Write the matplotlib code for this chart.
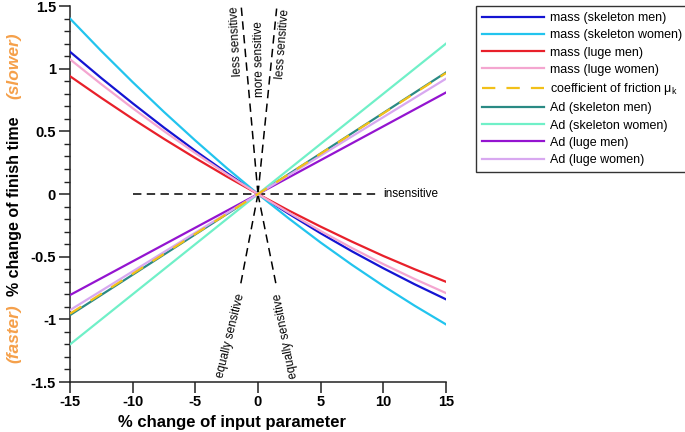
import matplotlib
matplotlib.use("Agg")
import matplotlib.pyplot as plt
from matplotlib.ticker import MultipleLocator

plt.rcParams['font.family'] = ['Liberation Sans', 'DejaVu Sans']
plt.rcParams['mathtext.fontset'] = 'custom'
plt.rcParams['mathtext.rm'] = 'Liberation Sans'
plt.rcParams['mathtext.it'] = 'Liberation Sans:italic'

# ---- data ----
x_mass = [-15, -12.5, -10, -7.5, -5, -2.5, 0, 2.5, 5, 7.5, 10, 12.5, 15]
mass_skeleton_men = [1.135, 0.925, 0.724, 0.53, 0.345, 0.169, 0,
                     -0.16, -0.313, -0.457, -0.592, -0.72, -0.84]
mass_skeleton_women = [1.40, 1.141, 0.893, 0.655, 0.427, 0.208, 0,
                       -0.198, -0.387, -0.565, -0.733, -0.891, -1.04]
mass_luge_men = [0.94, 0.767, 0.60, 0.44, 0.287, 0.14, 0,
                 -0.134, -0.26, -0.38, -0.494, -0.60, -0.70]
mass_luge_women = [1.075, 0.876, 0.685, 0.502, 0.327, 0.159, 0,
                   -0.151, -0.295, -0.431, -0.559, -0.678, -0.79]

x_lin = [-15, 0, 15]
friction = [-0.955, 0, 0.965]
ad_skeleton_men = [-0.966, 0, 0.97]
ad_skeleton_women = [-1.20, 0, 1.20]
ad_luge_men = [-0.806, 0, 0.81]
ad_luge_women = [-0.926, 0, 0.92]

labels = ['mass (skeleton men)', 'mass (skeleton women)', 'mass (luge men)',
          'mass (luge women)', 'coefficient of friction μ$_\\mathrm{k}$',
          'Ad (skeleton men)', 'Ad (skeleton women)', 'Ad (luge men)',
          'Ad (luge women)']
colors = ['#1414D2', '#22C4EE', '#E8202A', '#F4A6D0', '#F2C019',
          '#2A8A84', '#70F0C8', '#9414D0', '#D8A8F0']

# reference guide lines (endpoints in data units)
guide_h = ([-10, 9.5], [0, 0])
guide_lines = [([0, -1.33], [0, 1.49]), ([0, 1.49], [0, 1.48]),
               ([0, -1.44], [0, -0.75]), ([0, 1.50], [0, -0.75])]

fig = plt.figure(figsize=(6.85, 4.32), dpi=100)
ax = fig.add_axes([0.1022, 0.1157, 0.651 - 0.1022, 0.986 - 0.1157])

series = [(x_mass, mass_skeleton_men), (x_mass, mass_skeleton_women),
          (x_mass, mass_luge_men), (x_mass, mass_luge_women),
          (x_lin, friction), (x_lin, ad_skeleton_men),
          (x_lin, ad_skeleton_women), (x_lin, ad_luge_men),
          (x_lin, ad_luge_women)]

dash_kw = dict(color='black', lw=1.1, dashes=(5.5, 3.5), zorder=1)
ax.plot(*guide_h, **dash_kw)
for gx, gy in guide_lines:
    ax.plot(gx, gy, **dash_kw)

handles = []
for i, ((xs, ys), lab, c) in enumerate(zip(series, labels, colors)):
    if i == 4:
        h, = ax.plot(xs, ys, color=c, lw=1.6, dashes=(6, 5), label=lab, zorder=4)
    else:
        h, = ax.plot(xs, ys, color=c, lw=1.6, label=lab, zorder=3)
    handles.append(h)

ax.set_xlim(-15, 15)
ax.set_ylim(-1.5, 1.5)
ax.set_xticks([-15, -10, -5, 0, 5, 10, 15])
ax.set_xticklabels(['-15', '-10', '-5', '0', '5', '10', '15'])
ax.set_yticks([-1.5, -1, -0.5, 0, 0.5, 1, 1.5])
ax.set_yticklabels(['-1.5', '-1', '-0.5', '0', '0.5', '1', '1.5'])
ax.yaxis.set_minor_locator(MultipleLocator(0.1))
ax.spines['top'].set_visible(False)
ax.spines['right'].set_visible(False)
for s in ('left', 'bottom'):
    ax.spines[s].set_linewidth(1.1)
    ax.spines[s].set_color('#222222')
ax.tick_params(axis='both', which='major', direction='out', length=8,
               width=1.1, color='#222222', labelsize=10.5)
ax.tick_params(axis='x', which='major', pad=1.5)
ax.tick_params(axis='y', which='major', pad=2)
ax.tick_params(axis='y', which='minor', direction='out', length=4.5,
               width=1.0, color='#222222')
for t in ax.get_xticklabels() + ax.get_yticklabels():
    t.set_fontweight('bold')

fig.text(232 / 685, 1 - 423 / 432, '% change of input parameter',
         fontsize=12, fontweight='bold', ha='center', va='center')

# y label and side hints
fig.text(0.0205, 1 - 206 / 432, '% change of finish time', rotation=90,
         fontsize=11.5, fontweight='bold', ha='center', va='center')
fig.text(0.0205, 1 - 66 / 432, '(slower)', rotation=90, fontsize=12.5,
         fontweight='bold', style='italic', color='#F5A04A',
         ha='center', va='center')
fig.text(0.0205, 1 - 334 / 432, '(faster)', rotation=90, fontsize=12.5,
         fontweight='bold', style='italic', color='#F5A04A',
         ha='center', va='center')

# guide annotations
tkw = dict(fontsize=8.5, ha='center', va='center', rotation_mode='anchor')
ax.text(10.0, 0, 'insensitive', fontsize=8.5, ha='left', va='center')
ax.text(-1.72, 1.22, 'less sensitive', rotation=93, **tkw)
ax.text(0.08, 1.08, 'more sensitive', rotation=91, **tkw)
ax.text(1.98, 1.20, 'less sensitive', rotation=85.5, **tkw)
ax.text(-2.15, -1.13, 'equally sensitive', rotation=76, **tkw)
ax.text(2.2, -1.13, 'equally sensitive', rotation=101, **tkw)

leg = ax.legend(handles=handles, loc='upper left',
                bbox_to_anchor=(0.695, 0.985), bbox_transform=fig.transFigure,
                borderaxespad=0, fontsize=9, handlelength=5.0,
                handletextpad=0.5, labelspacing=0.42, borderpad=0.45,
                fancybox=False, frameon=True, edgecolor='black')
leg.get_frame().set_linewidth(1.0)

fig.savefig('out.png', dpi=100)
